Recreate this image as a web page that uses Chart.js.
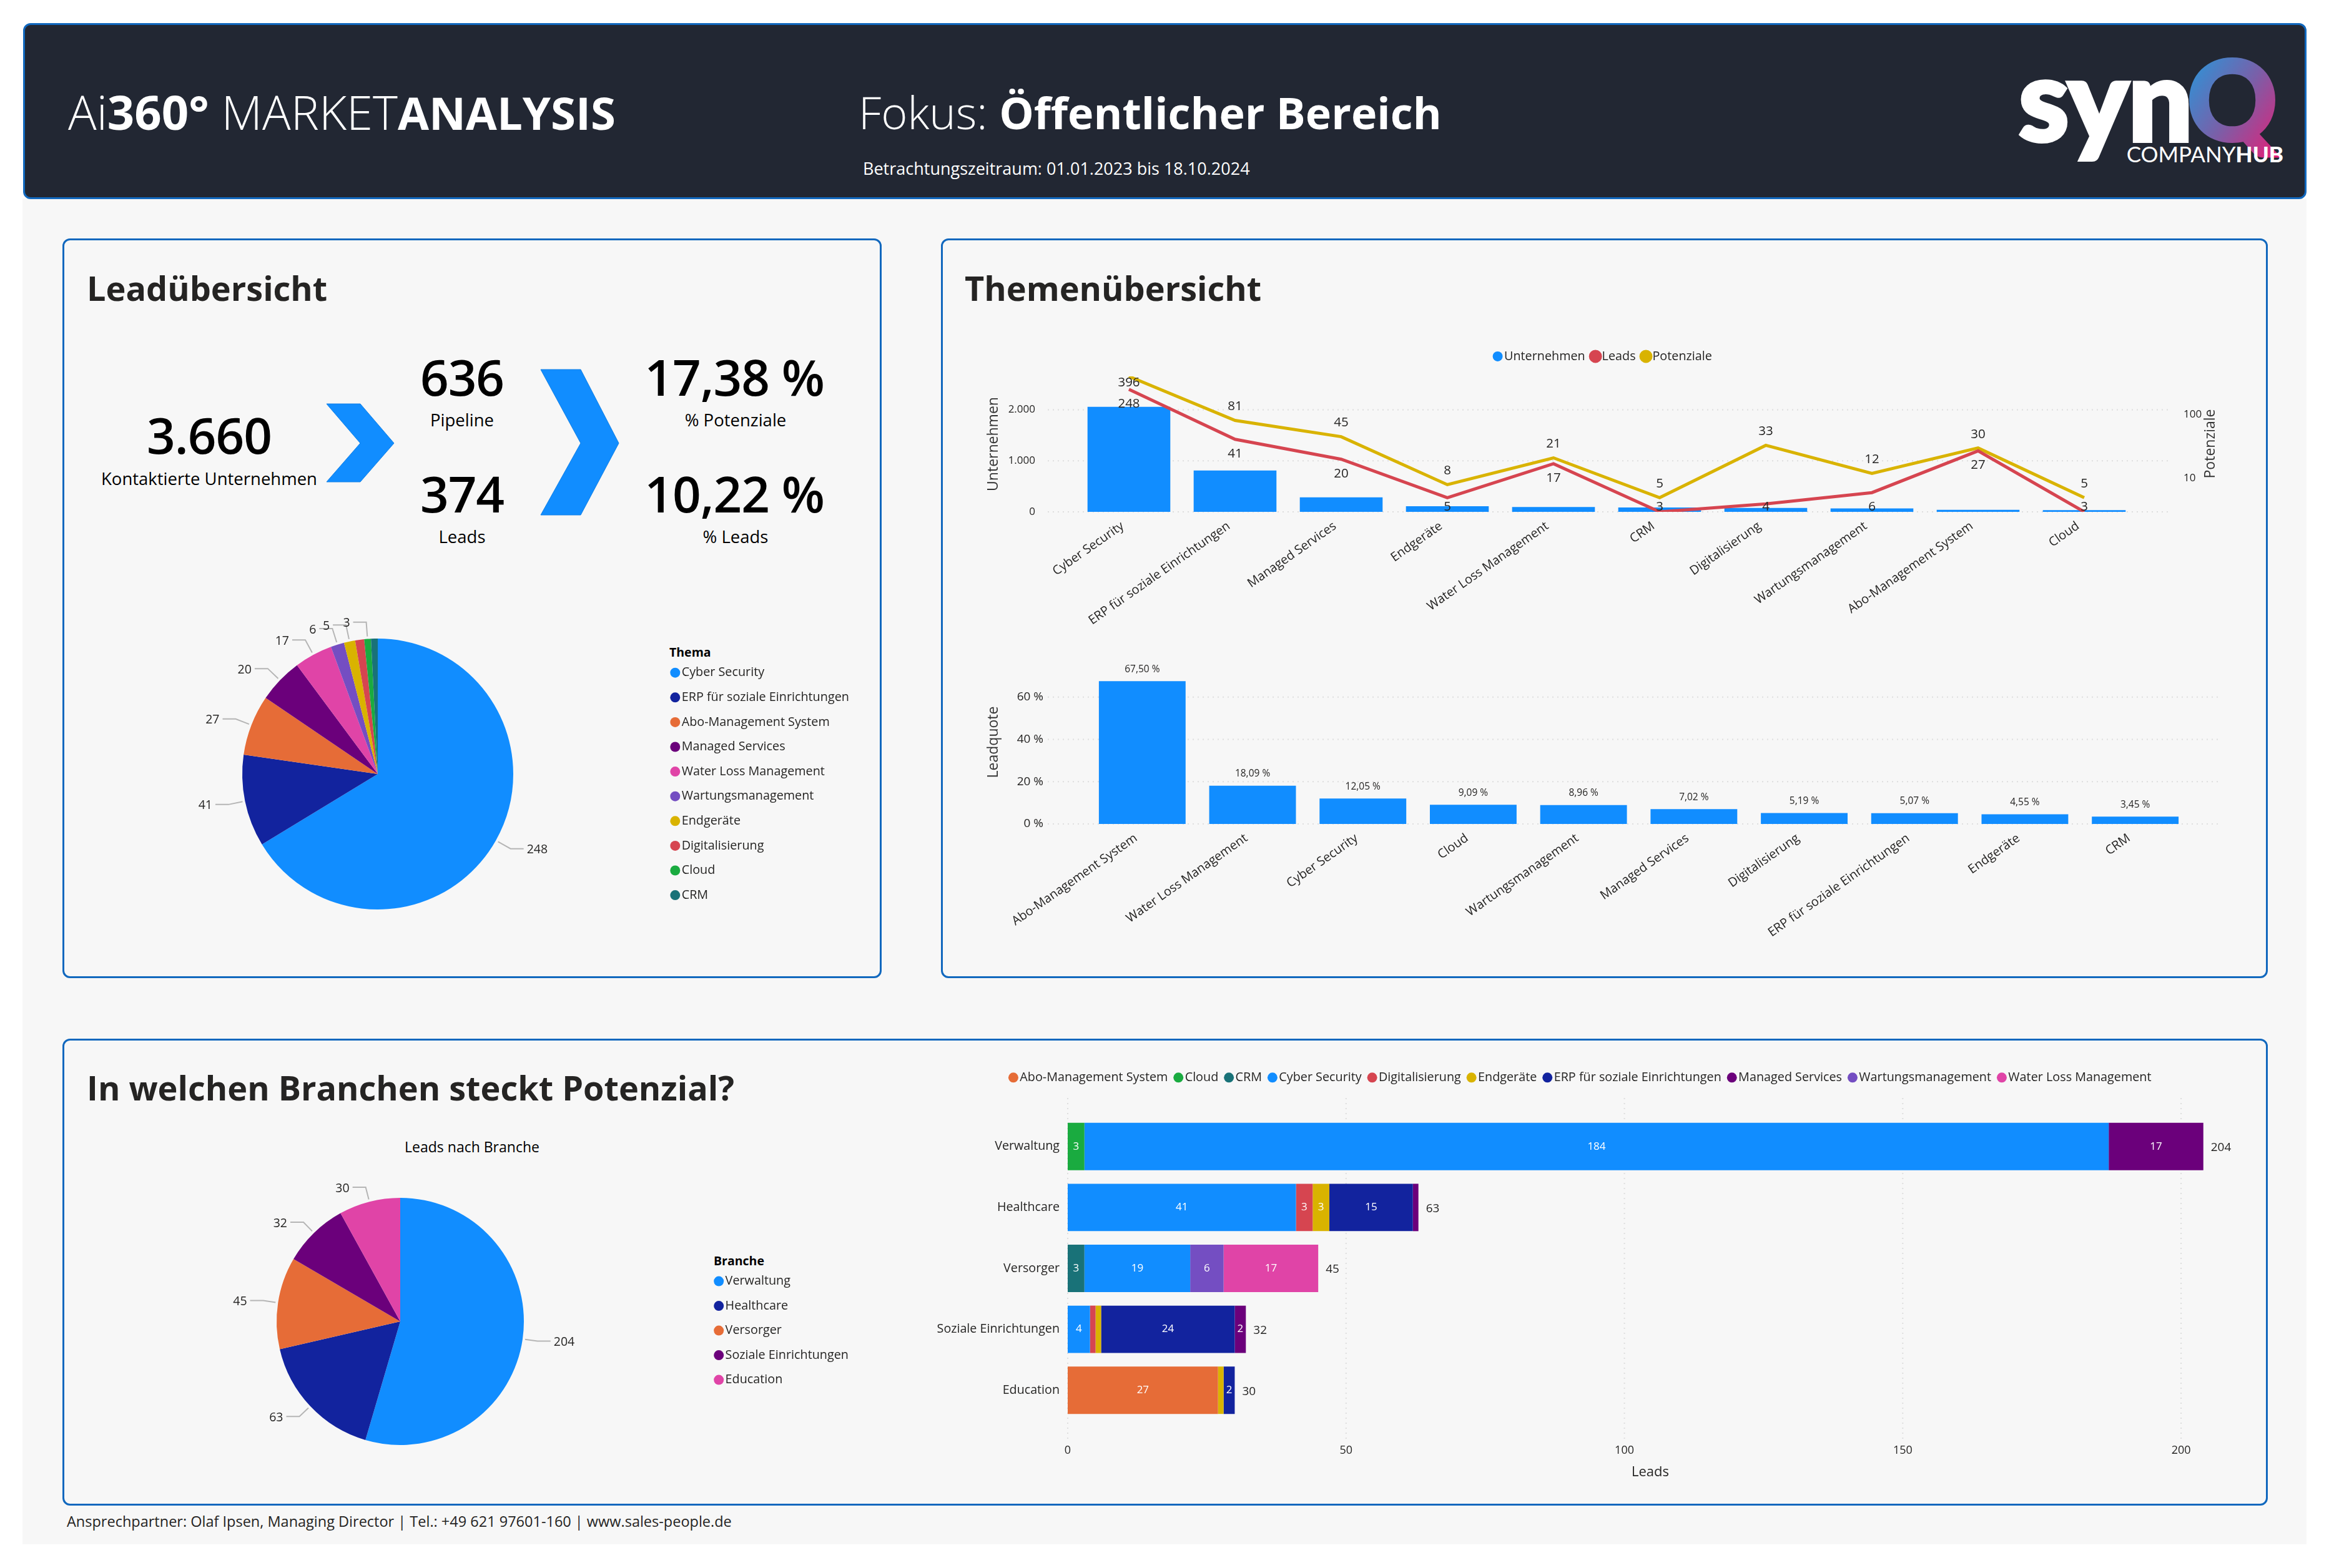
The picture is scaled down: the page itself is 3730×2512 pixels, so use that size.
<!DOCTYPE html>
<html lang="de">
<head>
<meta charset="utf-8">
<title>Ai360° MARKETANALYSIS</title>
<script src="https://cdn.jsdelivr.net/npm/chart.js@4"></script>
<style>
  html, body { margin: 0; padding: 0; background: #fff; }
  body { position: relative; width: 3730px; height: 2512px; overflow: hidden; font-family: "Open Sans", sans-serif; color: #000; }
  .box { position: absolute; box-sizing: border-box; border: 3px solid #1168be; border-radius: 12px; }
  .t { position: absolute; white-space: nowrap; transform: translateY(-50%); line-height: 1; }
  .m { transform: translate(-50%, -50%); }
  .h2 { font-size: 54px; font-weight: 700; color: #252423; }
  .kpi { font-size: 80px; font-weight: 600; letter-spacing: -1px; }
  .sub { font-size: 27.5px; }
  canvas { position: absolute; }
  svg { position: absolute; left: 0; top: 0; }
</style>
</head>
<body>
<div style="position:absolute;left:36px;top:318px;width:3658px;height:2156px;background:#f7f7f7"></div>
<div class="box" style="left:37px;top:37px;width:3657px;height:282px;background:#222733"></div>
<div class="box" style="left:100px;top:382px;width:1312px;height:1185px"></div>
<div class="box" style="left:1507px;top:382px;width:2125px;height:1185px"></div>
<div class="box" style="left:100px;top:1664px;width:3532px;height:748px"></div>

<div class="t" style="left:109px;top:179px;font-size:76px;color:#fff;font-weight:300">Ai<b style="font-weight:700">360°</b> MARKET<b style="font-weight:700;font-size:72.5px">ANALYSIS</b></div>
<div class="t" style="left:1375px;top:179px;font-size:72px;color:#fff;font-weight:300">Fokus: <b style="font-weight:700;font-size:70px">Öffentlicher Bereich</b></div>
<div class="t" style="left:1382px;top:269px;font-size:27px;color:#fff">Betrachtungszeitraum: 01.01.2023 bis 18.10.2024</div>

<div class="t h2" style="left:139px;top:461px">Leadübersicht</div>
<div class="t h2" style="left:1545px;top:461px">Themenübersicht</div>
<div class="t h2" style="left:139px;top:1742px">In welchen Branchen steckt Potenzial?</div>

<div class="t m kpi" style="left:335px;top:696px">3.660</div>
<div class="t m sub" style="left:335px;top:767px">Kontaktierte Unternehmen</div>
<div class="t m kpi" style="left:740px;top:603px">636</div>
<div class="t m sub" style="left:740px;top:673px">Pipeline</div>
<div class="t m kpi" style="left:740px;top:790px">374</div>
<div class="t m sub" style="left:740px;top:860px">Leads</div>
<div class="t m kpi" style="left:1176px;top:603px">17,38 %</div>
<div class="t m sub" style="left:1178px;top:673px">% Potenziale</div>
<div class="t m kpi" style="left:1176px;top:790px">10,22 %</div>
<div class="t m sub" style="left:1178px;top:860px">% Leads</div>

<div class="t m" style="left:756px;top:1837px;font-size:23px">Leads nach Branche</div>
<div class="t" style="left:1072px;top:1045px;font-size:19.5px;font-weight:700">Thema</div>
<div class="t" style="left:1143px;top:2020px;font-size:19.5px;font-weight:700">Branche</div>
<div class="t" style="left:107px;top:2438px;font-size:23.5px;color:#252423">Ansprechpartner: Olaf Ipsen, Managing Director | Tel.: +49 621 97601-160 | www.sales-people.de</div>

<svg width="3730" height="2512" viewBox="0 0 3730 2512">
  <defs>
    <linearGradient id="qfarbe" x1="0" y1="0" x2="1" y2="1">
      <stop offset="0" stop-color="#13a5e8"/>
      <stop offset="0.55" stop-color="#7a5fa8"/>
      <stop offset="1" stop-color="#ee1a72"/>
    </linearGradient>
  </defs>
  <polygon points="523,647 577,647 631,710 577,772 523,772 577,710" fill="#118dff" stroke="#0f7fe6" stroke-width="1"/>
  <polygon points="866,592 930,592 991,710 930,825 866,825 930,710" fill="#118dff" stroke="#0f7fe6" stroke-width="1"/>
  <text x="3233" y="226" font-family="Lato" font-weight="900" font-size="182" fill="#fff" stroke="#fff" stroke-width="6">syn</text>
  <text x="3502" y="226" font-family="Lato" font-weight="900" font-size="180" fill="url(#qfarbe)" stroke="url(#qfarbe)" stroke-width="4">Q</text>
  <text x="3657" y="260" text-anchor="end" font-family="Lato" font-size="35" fill="#fff">COMPANY<tspan font-weight="900">HUB</tspan></text>
</svg>

<canvas id="chart-pie-thema" width="1290" height="560" style="left:110px;top:960px"></canvas>
<canvas id="chart-themen" width="2100" height="455" style="left:1520px;top:545px"></canvas>
<canvas id="chart-quote" width="2100" height="460" style="left:1520px;top:1040px"></canvas>
<canvas id="chart-pie-branche" width="1290" height="520" style="left:110px;top:1857px"></canvas>
<canvas id="chart-branchen" width="2108" height="700" style="left:1480px;top:1700px"></canvas>

<script>
// Themenübersicht
const themen = ['Cyber Security', 'ERP für soziale Einrichtungen', 'Managed Services', 'Endgeräte', 'Water Loss Management', 'CRM', 'Digitalisierung', 'Wartungsmanagement', 'Abo-Management System', 'Cloud'];
const unternehmen = [2058, 809, 285, 110, 94, 87, 77, 67, 40, 33];
const leads = [248, 41, 20, 5, 17, 3, 4, 6, 27, 3];
const potenziale = [396, 81, 45, 8, 21, 5, 33, 12, 30, 5];
const unternehmenTicks = [0, 1000, 2000];
const potenzialeTicks = [10, 100];

// Leadquote
const quoteThemen = ['Abo-Management System', 'Water Loss Management', 'Cyber Security', 'Cloud', 'Wartungsmanagement', 'Managed Services', 'Digitalisierung', 'ERP für soziale Einrichtungen', 'Endgeräte', 'CRM'];
const leadquote = [67.5, 18.09, 12.05, 9.09, 8.96, 7.02, 5.19, 5.07, 4.55, 3.45];
const quoteTicks = [0, 20, 40, 60];

// Kreis Thema
const pieThemen = ['Cyber Security', 'ERP für soziale Einrichtungen', 'Abo-Management System', 'Managed Services', 'Water Loss Management', 'Wartungsmanagement', 'Endgeräte', 'Digitalisierung', 'Cloud', 'CRM'];
const pieLeads = [248, 41, 27, 20, 17, 6, 5, 4, 3, 3];
const pieOhneLabel = ['Digitalisierung', 'CRM'];

// Branchen
const branchen = ['Verwaltung', 'Healthcare', 'Versorger', 'Soziale Einrichtungen', 'Education'];
const branchenLeads = [204, 63, 45, 32, 30];
const branchenTicks = [0, 50, 100, 150, 200];
const aboSerie = [0, 0, 0, 0, 27];
const cloudSerie = [3, 0, 0, 0, 0];
const crmSerie = [0, 0, 3, 0, 0];
const cyberSerie = [184, 41, 19, 4, 0];
const digitalSerie = [0, 3, 0, 1, 0];
const endgeraeteSerie = [0, 3, 0, 1, 1];
const erpSerie = [0, 15, 0, 24, 2];
const managedSerie = [17, 1, 0, 2, 0];
const wartungSerie = [0, 0, 6, 0, 0];
const waterSerie = [0, 0, 17, 0, 0];

const farben = {
  'Cyber Security': '#118dff',
  'ERP für soziale Einrichtungen': '#12239e',
  'Abo-Management System': '#e66c37',
  'Managed Services': '#6b007b',
  'Water Loss Management': '#e044a7',
  'Wartungsmanagement': '#744ec2',
  'Endgeräte': '#d9b300',
  'Digitalisierung': '#d64550',
  'Cloud': '#1aab40',
  'CRM': '#197278'
};
const branchenFarben = ['#118dff', '#12239e', '#e66c37', '#6b007b', '#e044a7'];

Chart.defaults.font.family = '"Open Sans", sans-serif';
Chart.defaults.color = '#252423';
Chart.defaults.animation = false;
Chart.defaults.responsive = false;
Chart.defaults.devicePixelRatio = 1;

const legendLabels = (padding) => ({
  usePointStyle: true, pointStyle: 'circle', boxWidth: 1, boxHeight: 11.3, padding, color: '#252423', font: { size: 19.8 },
  sort: (a, b) => a.datasetIndex - b.datasetIndex
});
const setTicks = werte => s => { s.ticks = werte.map(value => ({ value })); };
// tick padding darf den Plotbereich nicht von oben stauchen
const fixWidth = w => s => { s.width = w; s.paddingTop = 0; s.paddingBottom = 0; };

// Legende nimmt keinen Platz im Layout und wird direkt gesetzt
const placeLegend = {
  id: 'placeLegend',
  beforeUpdate(chart) {
    const lg = chart.legend;
    if (!lg || lg._wrapped) return;
    const fit = lg.fit.bind(lg);
    lg.fit = () => {
      fit();
      if (lg.isHorizontal()) lg.height = 0; else lg.width = 0;
    };
    lg._wrapped = true;
  },
  afterLayout(chart, args, opts) {
    const lg = chart.legend;
    lg.top = opts.top;
    lg.bottom = chart.height;
    if (opts.left !== undefined) {
      lg.left = opts.left;
      lg.right = chart.width;
      lg.width = lg.right - lg.left;
    } else {
      lg.left = 0;
      lg.right = chart.width;
      lg.width = chart.width;
    }
    lg.height = lg.bottom - lg.top;
  }
};

// gepunktete Gitterlinien, die über die Kategorien hinauslaufen
const dottedGrid = {
  id: 'dottedGrid',
  beforeDatasetsDraw(chart, args, opts) {
    const ctx = chart.ctx;
    const scale = chart.scales[opts.axis];
    ctx.save();
    ctx.strokeStyle = '#dedede';
    ctx.lineWidth = 2;
    ctx.setLineDash([2, 6]);
    scale.ticks.forEach(t => {
      const p = scale.getPixelForValue(t.value);
      ctx.beginPath();
      if (scale.isHorizontal()) { ctx.moveTo(p, opts.from); ctx.lineTo(p, opts.to); }
      else { ctx.moveTo(opts.from, p); ctx.lineTo(opts.to, p); }
      ctx.stroke();
    });
    ctx.restore();
  }
};

// Kreisbeschriftung mit Führungslinie
const pieLabels = {
  id: 'pieLabels',
  afterDatasetsDraw(chart, args, opts) {
    const ctx = chart.ctx;
    const labels = chart.data.labels;
    const values = chart.data.datasets[0].data;
    ctx.save();
    ctx.font = '19.5px "Open Sans"';
    ctx.textBaseline = 'middle';
    chart.getDatasetMeta(0).data.forEach((arc, i) => {
      if (opts.skip.includes(labels[i])) return;
      const mid = (arc.startAngle + arc.endAngle) / 2;
      const r = arc.outerRadius;
      const sx = arc.x + Math.cos(mid) * (r + 4), sy = arc.y + Math.sin(mid) * (r + 4);
      const ex = arc.x + Math.cos(mid) * (r + opts.elbow), ey = arc.y + Math.sin(mid) * (r + opts.elbow);
      const right = Math.cos(mid) >= 0;
      const tx = ex + (right ? 21 : -21);
      ctx.strokeStyle = '#b5b5b5';
      ctx.lineWidth = 2;
      ctx.beginPath();
      ctx.moveTo(sx, sy);
      ctx.lineTo(ex, ey);
      ctx.lineTo(tx, ey);
      ctx.stroke();
      ctx.fillStyle = '#252423';
      ctx.textAlign = right ? 'left' : 'right';
      ctx.fillText(String(values[i]), tx + (right ? 5 : -5), ey + 2);
    });
    ctx.restore();
  }
};

new Chart(document.getElementById('chart-pie-thema'), {
  type: 'pie',
  data: { labels: pieThemen, datasets: [{ data: pieLeads, backgroundColor: pieThemen.map(t => farben[t]), borderWidth: 0, radius: 217 }] },
  options: {
    layout: { padding: { right: 300 } },
    plugins: {
      tooltip: { enabled: false },
      legend: { position: 'right', align: 'start', labels: legendLabels(19.8) },
      placeLegend: { left: 951, top: 88 },
      pieLabels: { skip: pieOhneLabel, elbow: 27 }
    }
  },
  plugins: [placeLegend, pieLabels]
});

new Chart(document.getElementById('chart-pie-branche'), {
  type: 'pie',
  data: { labels: branchen, datasets: [{ data: branchenLeads, backgroundColor: branchenFarben, borderWidth: 0, radius: 198 }] },
  options: {
    layout: { padding: { right: 228 } },
    plugins: {
      tooltip: { enabled: false },
      legend: { position: 'right', align: 'start', labels: legendLabels(19.7) },
      placeLegend: { left: 1021, top: 166 },
      pieLabels: { skip: [], elbow: 24 }
    }
  },
  plugins: [placeLegend, pieLabels]
});

const tausender = v => String(v).replace(/\B(?=(\d{3})+$)/g, '.');
const clamp = (v, lo, hi) => Math.min(hi, Math.max(lo, v));

new Chart(document.getElementById('chart-themen'), {
  data: {
    labels: themen,
    datasets: [
      { type: 'bar', label: 'Unternehmen', data: unternehmen, yAxisID: 'y', backgroundColor: '#118dff', categoryPercentage: 0.78, barPercentage: 1, order: 2 },
      { type: 'line', label: 'Leads', data: leads, yAxisID: 'y2', borderColor: '#d64550', backgroundColor: '#d64550', borderWidth: 5, pointRadius: 0, tension: 0, order: 1 },
      { type: 'line', label: 'Potenziale', data: potenziale, yAxisID: 'y2', borderColor: '#d9b300', backgroundColor: '#d9b300', borderWidth: 5, pointRadius: 0, tension: 0, order: 1 }
    ]
  },
  options: {
    layout: { padding: { top: 58 } },
    plugins: {
      tooltip: { enabled: false },
      legend: { position: 'top', labels: legendLabels(16) },
      placeLegend: { top: 0 },
      dottedGrid: { axis: 'y', from: 158, to: 1954 }
    },
    scales: {
      x: {
        grid: { display: false, drawTicks: false }, border: { display: false },
        ticks: { autoSkip: false, minRotation: 35, maxRotation: 35, padding: 11, labelOffset: -10, font: { size: 20 } },
        afterFit: s => { s.height = 180; }
      },
      y: {
        position: 'left', min: 0, max: 2653, bounds: 'data',
        grid: { display: false, drawTicks: false }, border: { display: false },
        afterBuildTicks: setTicks(unternehmenTicks),
        ticks: { padding: 65, font: { size: 17 }, callback: v => tausender(v) },
        title: { display: true, text: 'Unternehmen', color: '#333', font: { size: 23 }, padding: { top: 58, bottom: 0 } },
        afterFit: fixWidth(203)
      },
      y2: {
        type: 'logarithmic', position: 'right', min: 3, max: 396, bounds: 'data',
        grid: { display: false, drawTicks: false }, border: { display: false },
        afterBuildTicks: setTicks(potenzialeTicks),
        ticks: { autoSkip: false, padding: 74, font: { size: 17 }, callback: v => String(v) },
        afterFit: fixWidth(197)
      }
    }
  },
  plugins: [placeLegend, dottedGrid, {
    id: 'themenLabels',
    afterDatasetsDraw(chart) {
      const ctx = chart.ctx;
      ctx.save();
      ctx.font = '20.5px "Open Sans"';
      ctx.fillStyle = '#252423';
      ctx.textAlign = 'center';
      ctx.textBaseline = 'middle';
      chart.getDatasetMeta(1).data.forEach((pt, i) => ctx.fillText(String(leads[i]), pt.x, clamp(pt.y + 23, 68, 267)));
      chart.getDatasetMeta(2).data.forEach((pt, i) => ctx.fillText(String(potenziale[i]), pt.x, clamp(pt.y - 22, 68, 267)));
      // rechter Achsentitel läuft wie der linke von unten nach oben
      ctx.translate(2020, 166);
      ctx.rotate(-Math.PI / 2);
      ctx.font = '23px "Open Sans"';
      ctx.fillStyle = '#333';
      ctx.fillText('Potenziale', 0, 0);
      ctx.restore();
    }
  }]
});

new Chart(document.getElementById('chart-quote'), {
  type: 'bar',
  data: { labels: quoteThemen, datasets: [{ label: 'Leadquote', data: leadquote, backgroundColor: '#118dff', categoryPercentage: 0.786, barPercentage: 1 }] },
  options: {
    layout: { padding: { top: 18, right: 112 } },
    plugins: {
      tooltip: { enabled: false },
      legend: { display: false },
      dottedGrid: { axis: 'y', from: 158, to: 2036 }
    },
    scales: {
      x: {
        grid: { display: false, drawTicks: false }, border: { display: false },
        ticks: { autoSkip: false, minRotation: 35, maxRotation: 35, padding: 11, labelOffset: -10, font: { size: 20 } },
        afterFit: s => { s.height = 180; }
      },
      y: {
        min: 0, max: 77.3, bounds: 'data',
        grid: { display: false, drawTicks: false }, border: { display: false },
        afterBuildTicks: setTicks(quoteTicks),
        ticks: { padding: 70, font: { size: 19 }, callback: v => v + ' %' },
        title: { display: true, text: 'Leadquote', color: '#333', font: { size: 23 }, padding: { top: 58, bottom: 0 } },
        afterFit: fixWidth(221)
      }
    }
  },
  plugins: [dottedGrid, {
    id: 'quoteLabels',
    afterDatasetsDraw(chart) {
      const ctx = chart.ctx;
      ctx.save();
      ctx.font = '15.5px "Open Sans"';
      ctx.fillStyle = '#252423';
      ctx.textAlign = 'center';
      ctx.textBaseline = 'middle';
      chart.getDatasetMeta(0).data.forEach((bar, i) => ctx.fillText(leadquote[i].toFixed(2).replace('.', ',') + ' %', bar.x, bar.y - 19));
      ctx.restore();
    }
  }]
});

const stackSerien = [
  ['Abo-Management System', aboSerie],
  ['Cloud', cloudSerie],
  ['CRM', crmSerie],
  ['Cyber Security', cyberSerie],
  ['Digitalisierung', digitalSerie],
  ['Endgeräte', endgeraeteSerie],
  ['ERP für soziale Einrichtungen', erpSerie],
  ['Managed Services', managedSerie],
  ['Wartungsmanagement', wartungSerie],
  ['Water Loss Management', waterSerie]
];

new Chart(document.getElementById('chart-branchen'), {
  type: 'bar',
  data: {
    labels: branchen,
    datasets: stackSerien.map(([name, werte]) => ({ label: name, data: werte, backgroundColor: farben[name], categoryPercentage: 0.778, barPercentage: 1, stack: 'a' }))
  },
  options: {
    indexAxis: 'y',
    layout: { padding: { top: 88, right: 12 } },
    plugins: {
      tooltip: { enabled: false },
      legend: { position: 'top', labels: legendLabels(16.4) },
      placeLegend: { top: 0 },
      dottedGrid: { axis: 'x', from: 59, to: 606 }
    },
    scales: {
      x: {
        stacked: true, min: 0, max: 209.3, bounds: 'data',
        grid: { display: false, drawTicks: false }, border: { display: false },
        afterBuildTicks: setTicks(branchenTicks),
        ticks: { padding: 37, font: { size: 18 } },
        title: { display: true, text: 'Leads', color: '#252423', font: { size: 22 }, padding: { top: 28, bottom: 28 } },
        afterFit: s => { s.height = 124; }
      },
      y: {
        stacked: true,
        grid: { display: false, drawTicks: false }, border: { display: false },
        ticks: { autoSkip: false, padding: 13, font: { size: 19.7 } },
        afterFit: s => { s.width = 230; }
      }
    }
  },
  plugins: [placeLegend, dottedGrid, {
    id: 'stackLabels',
    afterDatasetsDraw(chart) {
      const ctx = chart.ctx;
      ctx.save();
      ctx.textBaseline = 'middle';
      ctx.textAlign = 'center';
      ctx.font = '17px "Open Sans"';
      ctx.fillStyle = '#fff';
      stackSerien.forEach(([name, werte], d) => {
        chart.getDatasetMeta(d).data.forEach((bar, i) => {
          if (werte[i] >= 2) ctx.fillText(String(werte[i]), (bar.x + bar.base) / 2, bar.y);
        });
      });
      ctx.textAlign = 'left';
      ctx.font = '19px "Open Sans"';
      ctx.fillStyle = '#252423';
      branchenLeads.forEach((summe, i) => {
        ctx.fillText(String(summe), chart.scales.x.getPixelForValue(summe) + 12, chart.scales.y.getPixelForValue(i) + 2);
      });
      ctx.restore();
    }
  }]
});
</script>
</body>
</html>
